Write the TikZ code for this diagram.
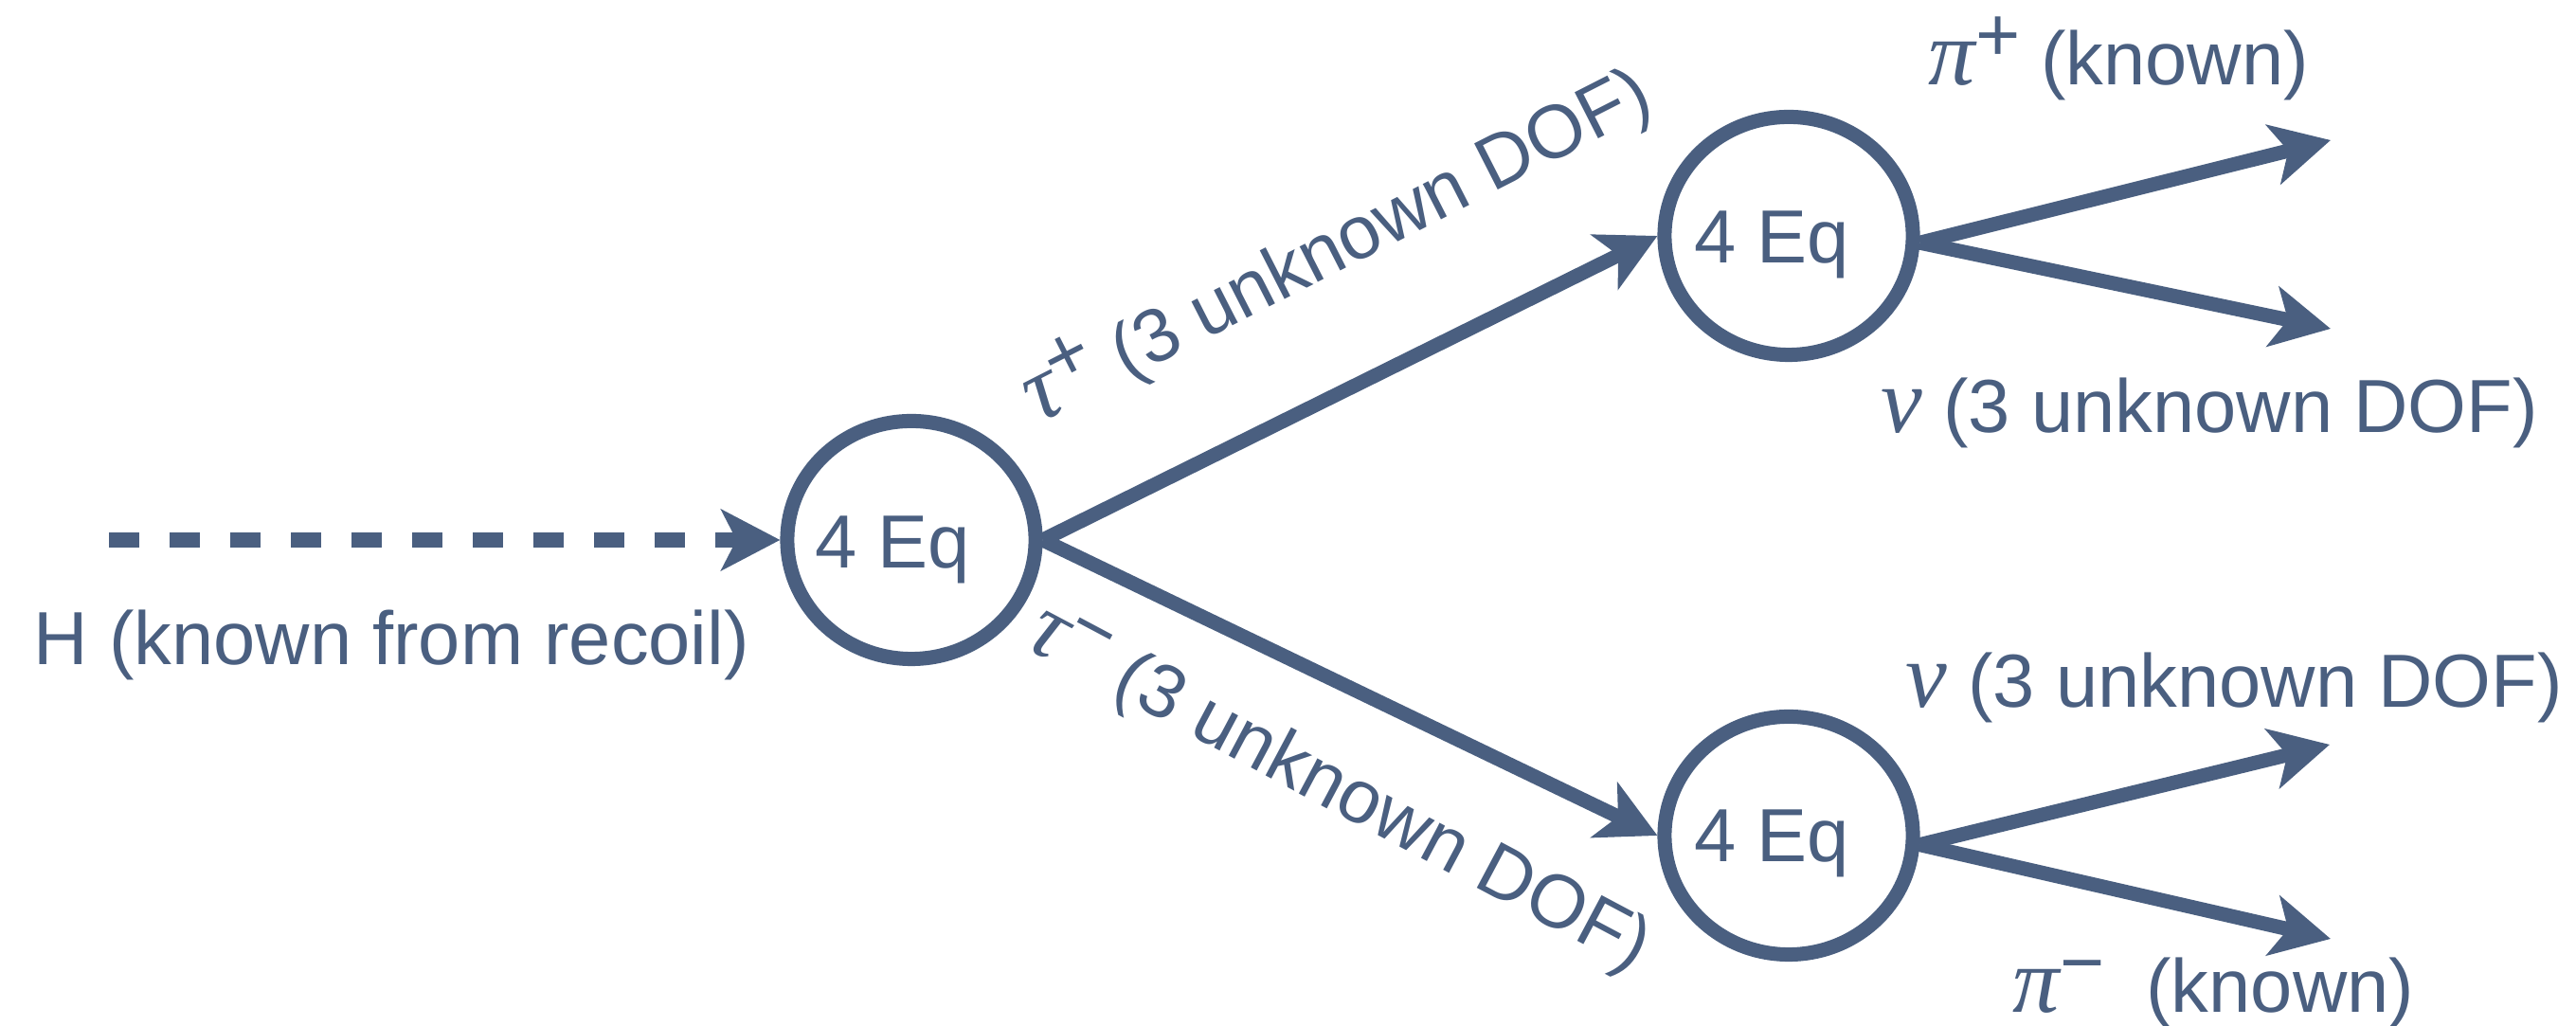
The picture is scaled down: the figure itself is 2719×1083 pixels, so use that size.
\documentclass[tikz,border=0pt]{standalone}
\usepackage{fontspec}
\setmainfont{Liberation Sans}
\newfontfamily\grkfont{Liberation Serif}
\newcommand\grk[1]{{\fontsize{28}{30}\selectfont\grkfont\itshape #1}}
\newcommand\supr[1]{\raisebox{0.32em}{\fontsize{23}{24}\selectfont #1}}
\usetikzlibrary{arrows.meta,shapes.geometric}
\definecolor{ink}{RGB}{74,95,128}
\begin{document}
\begin{tikzpicture}[x=0.01cm,y=0.01cm,
  every node/.style={text=ink, font=\fontsize{22.6}{26}\selectfont, inner sep=0pt},
  eqnode/.style={draw=ink, line width=0.15cm, ellipse, minimum width=2.62cm, minimum height=2.51cm, inner sep=0pt},
  flow/.style={draw=ink, line width=0.15cm, -{Stealth[length=0.62cm,width=0.64cm,inset=0.16cm]}},
  dashflow/.style={draw=ink, line width=0.16cm, dash pattern=on 0.32cm off 0.32cm, -{Stealth[length=0.62cm,width=0.64cm,inset=0.16cm]}},
  lbl/.style={anchor=base west},
  eqtext/.style={anchor=base}]
\useasboundingbox (0,0) rectangle (2719,1083);

% equation nodes
\node[eqnode] (L) at (962,513) {};
\node[eqnode] (U) at (1888,834) {};
\node[eqnode] (D) at (1888,201) {};
\node[eqtext] (Lt) at ([shift={(-20,-30)}]L.center) {4 Eq};
\node[eqtext] (Ut) at ([shift={(-18,-29)}]U.center) {4 Eq};
\node[eqtext] (Dt) at ([shift={(-18,-28)}]D.center) {4 Eq};

% incoming Higgs
\coordinate (Hs) at (115,513);
\draw[dashflow] (Hs) -- (L.west);
\node[lbl] (hl) at (35,381) {H (known from recoil)};

% taus
\draw[flow] (L.east) -- (U.west);
\draw[flow] (L.east) -- (D.west);
\node[rotate=27] (tp) at (1410,826) {\grk{τ}\supr{+} (3 unknown DOF)};
\node[rotate=-28] (tm) at (1412,247) {\grk{τ}\supr{−}\ (3 unknown DOF)};

% decay products
\coordinate (u1) at (2460,935);
\coordinate (u2) at (2460,736);
\coordinate (d1) at (2459,297);
\coordinate (d2) at (2460,92);
\draw[flow] (U.-3) -- (u1);
\draw[flow] (U.-3) -- (u2);
\draw[flow] (D.-4) -- (d1);
\draw[flow] (D.-4) -- (d2);

\node[lbl] (pp) at (2035,993) {\grk{π}\supr{+} (known)};
\node[lbl] (nu1) at (1985,626) {\grk{ν} (3 unknown DOF)};
\node[lbl] (nu2) at (2011,336) {\grk{ν} (3 unknown DOF)};
\node[lbl] (pm) at (2124,14) {\grk{π}\supr{−}\ \ (known)};
\end{tikzpicture}
\end{document}
